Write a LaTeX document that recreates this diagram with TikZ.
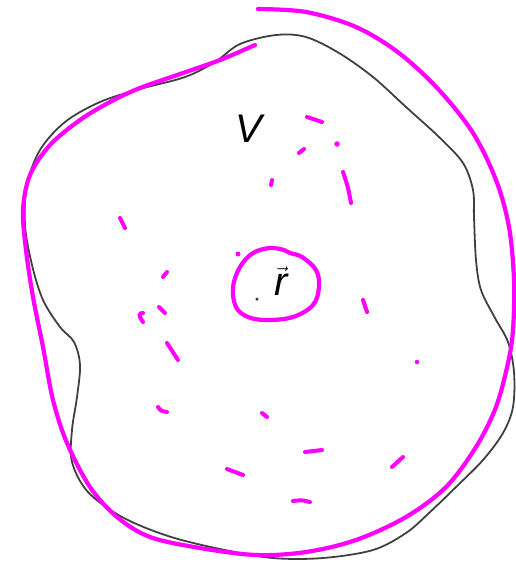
\documentclass[tikz,border=0pt]{standalone}
\usepackage{fontspec}
\setmainfont{Liberation Sans}
\usepackage{tikz}
\usetikzlibrary{arrows.meta}
\definecolor{pen}{HTML}{FF00FF}
\definecolor{pencil}{HTML}{404040}
\tikzset{
  outline/.style={draw=pencil, line width=1.8pt},
  stroke/.style={draw=pen, line width=4.2pt, line cap=round, line join=round},
  flick/.style={draw=pen, line width=4pt, line cap=round},
  speck/.style={circle, fill=pen, inner sep=0pt, minimum size=#1},
  letter/.style={font=\fontsize{40}{41}\selectfont\itshape, inner sep=0pt, anchor=base}
}
\begin{document}
\begin{tikzpicture}[x=1pt, y=-1pt]
\useasboundingbox (0,0) rectangle (516,563);
% volume boundary
\draw[outline] plot[smooth cycle, tension=0.55] coordinates {
  (276,35) (306,37) (339,53) (373,77) (406,107) (439,137) (463,163) (473,190)
  (474,217) (476,260) (481,290) (495,318) (508,342) (514,372) (513,407) (503,433)
  (483,460) (456,487) (429,513) (406,533) (373,550) (323,558) (273,558) (220,549)
  (168,536) (122,517) (88,492) (72,462) (72,430) (77,397) (80,365) (74,342)
  (60,327) (43,300) (32,265) (25,225) (27,185) (40,150) (65,122) (100,102)
  (140,89) (185,77) (215,62) (240,44)};
% enclosing stroke
\draw[stroke] plot[smooth, tension=0.55] coordinates {
  (258,9) (306,12) (356,27) (399,53) (439,90) (473,133) (496,180) (509,227)
  (514,280) (513,330) (508,363) (496,407) (476,447) (446,487) (406,517) (356,540)
  (306,552) (256,555) (200,548) (150,537) (117,517) (90,487) (67,443) (53,400)
  (43,347) (33,297) (26,250) (23,210) (30,175) (50,145) (80,120) (110,102)
  (140,88) (183,73) (220,60) (255,45)};
% loop round the point
\draw[stroke] plot[smooth cycle, tension=0.6] coordinates {
  (284,250) (270,248) (253,253) (240,267) (233,287) (236,307) (248,317) (267,320)
  (293,317) (313,305) (319,287) (316,270) (302,257) (290,253)};
% scattered strokes
\draw[flick] (307,117) -- (322,122);
\draw[flick] (299,153) -- (304,149);
\draw[flick] (272,180) -- (271,185);
\draw[flick] (343,172) .. controls (348,187) .. (351,203);
\draw[flick] (120,218) .. controls (123,224) .. (125,228);
\draw[flick] (163,277) -- (167,272);
\draw[flick] (143,322) .. controls (138,315) and (139,313) .. (143,313);
\draw[flick] (159,307) -- (165,313);
\draw[flick] (167,343) -- (178,360);
\draw[flick] (158,407) .. controls (161,411) .. (167,412);
\draw[flick] (262,413) -- (267,417);
\draw[flick] (363,300) -- (367,312);
\draw[flick] (305,452) -- (322,450);
\draw[flick] (392,467) -- (403,457);
\draw[flick] (293,501) .. controls (302,500) .. (310,502);
\draw[flick] (227,469) -- (243,475);
\node[speck=5.5pt] (s1) at (337,144) {};
\node[speck=5pt] (s2) at (238,254) {};
\node[speck=4.5pt] (s3) at (417,362) {};
% labels
\node[letter] (vol) at (249,142) {V};
\node[letter] (pos) at (281,295) {$\vec{\textit{r}}$};
\node[circle, fill=pencil, inner sep=0pt, minimum size=3.5pt] (pt) at (257,299) {};
\end{tikzpicture}
\end{document}
